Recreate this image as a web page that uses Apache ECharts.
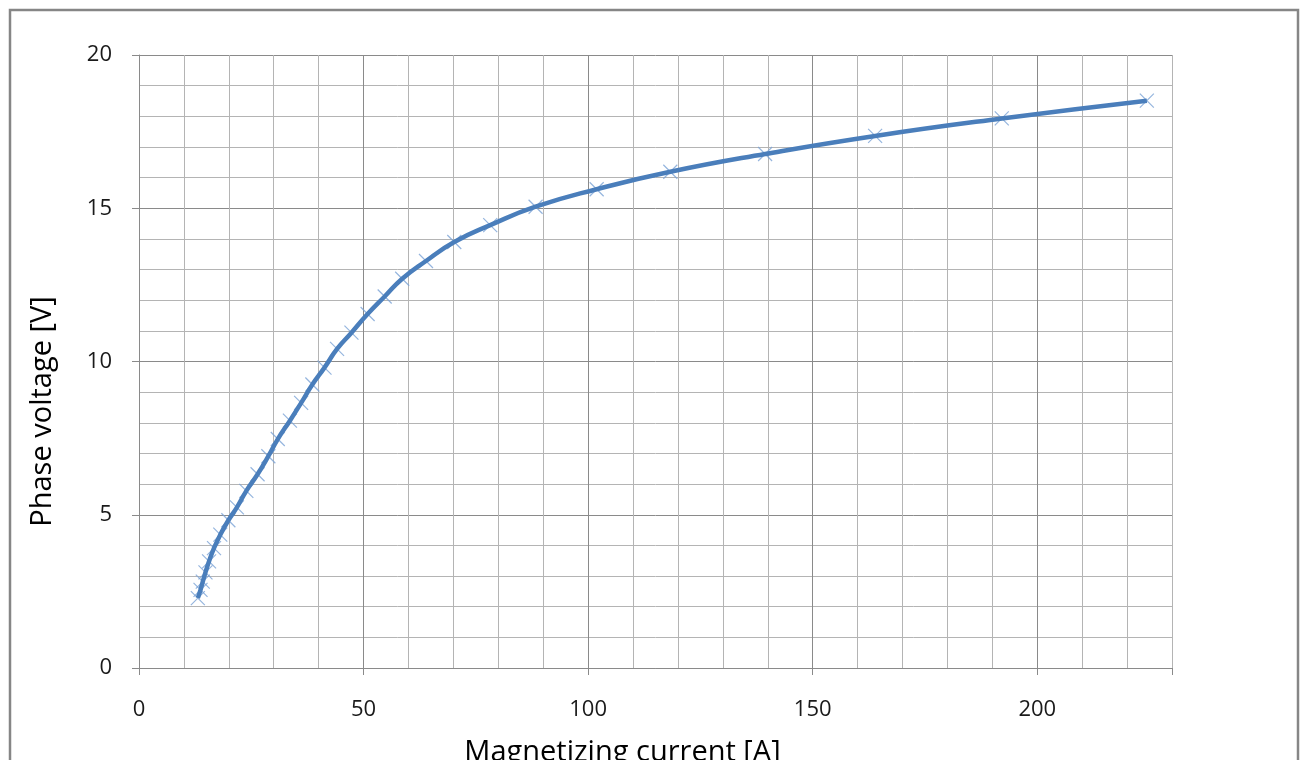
<!DOCTYPE html>
<html>
<head>
<meta charset="utf-8">
<title>Magnetizing curve</title>
<script src="https://cdn.jsdelivr.net/npm/echarts@6/dist/echarts.min.js"></script>
<style>
  html, body { margin: 0; padding: 0; background: #fff; }
  #chart { width: 1301px; height: 760px; }
</style>
</head>
<body>
<div id="chart"></div>
<script>
// measured points (current in A, phase voltage in V)
const currentA = [
  13.1, 13.7, 14.2, 14.8, 15.6, 16.7, 18.1, 19.9, 21.8, 23.9, 26.4, 28.8, 30.9, 33.6, 36.1, 38.6,
  41.3, 44.1, 47.3, 50.9, 54.7, 58.6, 63.9, 70.2, 78.2, 88.3, 101.9, 118.3, 139.4, 163.9, 192.1, 224.4
]
const voltageV = [
  2.28, 2.55, 2.82, 3.12, 3.48, 3.91, 4.35, 4.82, 5.24, 5.78, 6.32, 6.91, 7.47, 8.07, 8.65, 9.25,
  9.8, 10.41, 10.94, 11.55, 12.12, 12.7, 13.28, 13.9, 14.45, 15.05, 15.62, 16.19, 16.77, 17.36, 17.93, 18.51
]
const xLabels = [0, 50, 100, 150, 200]
const yLabels = [0, 5, 10, 15, 20]

const points = currentA.map((x, i) => [x, voltageV[i]])

const FONT = '"Open Sans", Carlito, Calibri, sans-serif'
const MAJOR = '#8a8a8a'
const MINOR = '#b4b4b4'

const chart = echarts.init(document.getElementById('chart'))

const option = {
  backgroundColor: '#fff',
  animation: false,
  grid: { left: 139, right: 129, top: 55, bottom: 92, containLabel: false, outerBoundsMode: 'none' },
  graphic: [
    {
      type: 'rect',
      shape: { x: 10, y: 10, width: 1288, height: 800 },
      style: { fill: 'none', stroke: '#868686', lineWidth: 2.5 },
      silent: true,
      z: 100
    }
  ],
  xAxis: [
    {
      type: 'value',
      min: 0,
      max: 230,
      interval: 10,
      name: 'Magnetizing current [A]',
      nameLocation: 'middle',
      nameGap: 70,
      nameTextStyle: { fontFamily: FONT, fontSize: 29, color: '#000', padding: [0, 66, 0, 0] },
      axisLine: { show: true, lineStyle: { color: MAJOR, width: 1 } },
      axisTick: { show: false },
      axisLabel: {
        margin: 31,
        fontFamily: FONT,
        fontSize: 22,
        color: '#1a1a1a',
        formatter: v => (xLabels.includes(v) ? String(v) : '')
      },
      splitLine: {
        show: true,
        lineStyle: { color: [MAJOR, MINOR, MINOR, MINOR, MINOR], width: 1 }
      }
    },
    {
      // only draws the major tick marks under the axis
      type: 'value',
      min: 0,
      max: 230,
      interval: 50,
      position: 'bottom',
      axisLine: { show: false },
      axisTick: { show: true, length: 7, lineStyle: { color: MAJOR } },
      axisLabel: { show: false },
      splitLine: { show: false }
    }
  ],
  yAxis: {
    type: 'value',
    min: 0,
    max: 20,
    interval: 5,
    name: 'Phase voltage [V]',
    nameLocation: 'middle',
    nameGap: 82,
    nameTextStyle: { fontFamily: FONT, fontSize: 29, color: '#000', padding: [0, 100, 0, 0] },
    axisLine: { show: true, lineStyle: { color: MAJOR, width: 1 } },
    axisTick: { show: true, length: 7, lineStyle: { color: MAJOR } },
    axisLabel: {
      margin: 27,
      fontFamily: FONT,
      fontSize: 22,
      color: '#1a1a1a',
      formatter: v => (yLabels.includes(v) ? String(v) : '')
    },
    splitLine: { show: true, lineStyle: { color: MAJOR, width: 1 } },
    minorTick: { show: false, splitNumber: 5 },
    minorSplitLine: { show: true, lineStyle: { color: MINOR, width: 1 } }
  },
  series: [
    {
      // x markers, drawn under the curve
      type: 'scatter',
      data: points,
      symbol: 'path://M0,0L10,10M10,0L0,10',
      symbolSize: 14,
      itemStyle: { color: 'rgba(0,0,0,0)', borderColor: '#7aa3d6', borderWidth: 1.2 },
      z: 2
    },
    {
      type: 'line',
      data: points,
      smooth: 0.5,
      showSymbol: false,
      lineStyle: { color: '#4a7ebb', width: 4.5 },
      z: 3
    }
  ]
}

chart.setOption(option)
</script>
</body>
</html>
